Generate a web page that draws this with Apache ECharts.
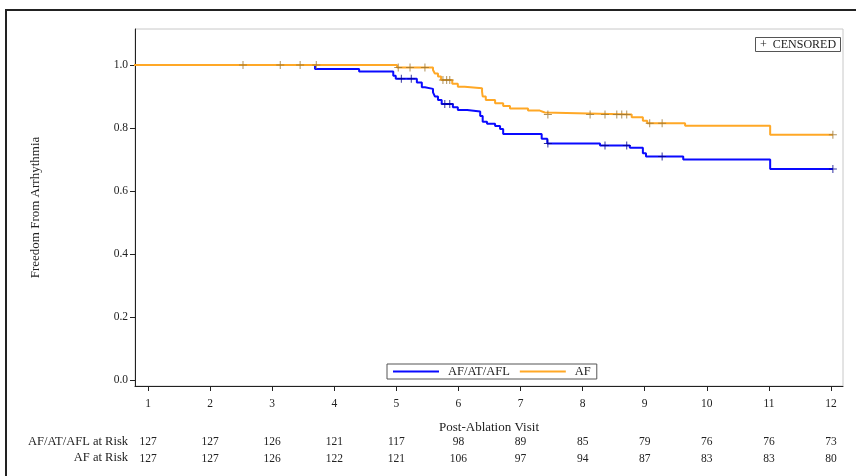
<!DOCTYPE html>
<html><head><meta charset="utf-8">
<script src="https://cdn.jsdelivr.net/npm/echarts@6/dist/echarts.min.js"></script>
<style>html,body{margin:0;padding:0;background:#fff}#c{width:856px;height:476px}</style>
</head><body><div id="c"></div>
<script>
// ---------- data ----------
const visits = [1,2,3,4,5,6,7,8,9,10,11,12];
const atRiskAll = [127,127,126,121,117,98,89,85,79,76,76,73];
const atRiskAF  = [127,127,126,122,121,106,97,94,87,83,83,80];
const yTicks = [0,0.2,0.4,0.6,0.8,1.0];

const stepTimesAll = [0,3.69,4.40,4.95,4.99,5.33,5.41,5.46,5.59,5.62,5.67,5.73,5.91,5.99,6.14,6.35,6.39,6.46,6.59,6.67,6.72,7.34,7.43,8.28,8.76,8.97,9.02,9.62,11.02,12.03];
const survAll      = [1.0,0.987,0.979,0.966,0.956,0.944,0.929,0.924,0.913,0.900,0.889,0.876,0.866,0.857,0.852,0.838,0.820,0.813,0.806,0.797,0.781,0.766,0.751,0.744,0.737,0.720,0.709,0.700,0.670,0.670];
const censorAll    = [5.08,5.24,5.78,5.86,7.44,8.36,8.71,9.28,12.03];

const stepTimesAF = [0,5.01,5.59,5.62,5.67,5.72,5.90,5.99,6.10,6.38,6.39,6.44,6.59,6.72,6.83,7.12,7.31,7.39,8.79,8.97,9.04,9.65,11.02,12.03];
const survAF      = [1.0,0.992,0.984,0.973,0.963,0.952,0.940,0.931,0.926,0.915,0.900,0.889,0.878,0.870,0.862,0.855,0.849,0.843,0.834,0.823,0.815,0.807,0.778,0.778];
const censorAF    = [2.53,3.13,3.45,3.71,5.03,5.22,5.46,5.75,5.81,5.86,7.44,8.12,8.36,8.55,8.63,8.71,9.08,9.28,12.03];

// ---------- helpers ----------
function pairs(ts, vs){ return ts.map((t,i)=>[t, vs[i]]); }
function valueAt(ts, vs, t){ let v = vs[0]; for (let i=0;i<ts.length;i++){ if (ts[i] <= t + 1e-9) v = vs[i]; } return v; }
function censorPts(cs, ts, vs){ return cs.map(t=>[t, valueAt(ts, vs, t)]); }

const FONT = '"Liberation Serif", "Times New Roman", serif';
const X_MIN = 0.7906, X_MAX = 12.193;
const Y_MIN = -0.019, Y_MAX = 1.114;
const CROSS = 'path://M0,3.5 H8 V4.5 H0 Z M3.5,0 H4.5 V8 H3.5 Z';
const BLUE = '#0a0aff', ORANGE = '#ffa826';

const chart = echarts.init(document.getElementById('c'), null, {renderer:'canvas'});
const baseX = {
  type:'value', gridIndex:0, min:X_MIN, max:X_MAX, position:'bottom',
  splitLine:{show:false}
};
chart.setOption({
  animation:false,
  backgroundColor:'#fff',
  grid:{left:135, top:29, width:708, height:357, show:true, borderColor:'#c8c8c8', borderWidth:1, containLabel:false},
  legend:{
    data:['AF/AT/AFL','AF'], left:387, top:364, orient:'horizontal',
    padding:[1,6,1,6], itemWidth:46, itemHeight:2, itemGap:10, icon:'rect',
    borderColor:'#555', borderWidth:1, backgroundColor:'#fff',
    textStyle:{fontFamily:FONT, fontSize:12.5, color:'#222', padding:[0,0,0,4]}
  },
  xAxis:[
    Object.assign({}, baseX, {
      axisLine:{show:true, onZero:false, lineStyle:{color:'#222', width:1}},
      axisTick:{show:true, customValues:visits, length:5, lineStyle:{color:'#222'}},
      axisLabel:{customValues:visits, margin:12, fontFamily:FONT, fontSize:11.5, color:'#222'},
      name:'Post-Ablation Visit', nameLocation:'middle', nameGap:35,
      nameTextStyle:{fontFamily:FONT, fontSize:13, color:'#222'}
    }),
    Object.assign({}, baseX, {
      axisLine:{show:false, onZero:false}, axisTick:{show:false},
      axisLabel:{customValues:visits, margin:50, fontFamily:FONT, fontSize:11.5, color:'#222',
        formatter:(v)=>String(atRiskAll[visits.indexOf(Math.round(v))])}
    }),
    Object.assign({}, baseX, {
      axisLine:{show:false, onZero:false}, axisTick:{show:false},
      axisLabel:{customValues:visits, margin:67, fontFamily:FONT, fontSize:11.5, color:'#222',
        formatter:(v)=>String(atRiskAF[visits.indexOf(Math.round(v))])}
    })
  ],
  yAxis:{
    type:'value', min:Y_MIN, max:Y_MAX,
    axisLine:{show:true, onZero:false, lineStyle:{color:'#222', width:1}},
    axisTick:{show:true, customValues:yTicks, length:5, lineStyle:{color:'#222'}},
    axisLabel:{customValues:yTicks, margin:7, fontFamily:FONT, fontSize:11.5, color:'#222',
      formatter:(v)=>v.toFixed(1)},
    splitLine:{show:false},
    name:'Freedom From Arrhythmia', nameLocation:'middle', nameGap:93, nameRotate:90,
    nameTextStyle:{fontFamily:FONT, fontSize:13, color:'#222'}
  },
  series:[
    {name:'AF/AT/AFL', type:'line', step:'end', showSymbol:false, xAxisIndex:0, yAxisIndex:0,
     data:pairs(stepTimesAll, survAll), color:BLUE, lineStyle:{color:BLUE, width:2}, z:2, silent:true},
    {name:'AF', type:'line', step:'end', showSymbol:false, xAxisIndex:0, yAxisIndex:0,
     data:pairs(stepTimesAF, survAF), color:ORANGE, lineStyle:{color:ORANGE, width:2}, z:3, silent:true},
    {name:'censorAll', type:'scatter', symbol:CROSS, symbolSize:8, xAxisIndex:0, yAxisIndex:0,
     data:censorPts(censorAll, stepTimesAll, survAll), itemStyle:{color:'#00008c'}, z:4, silent:true},
    {name:'censorAF', type:'scatter', symbol:CROSS, symbolSize:8, xAxisIndex:0, yAxisIndex:0,
     data:censorPts(censorAF, stepTimesAF, survAF), itemStyle:{color:'#9c7630'}, z:5, silent:true}
  ],
  graphic:[
    {type:'rect', shape:{x:6, y:10, width:900, height:500}, style:{fill:'none', stroke:'#222', lineWidth:2}, silent:true},
    {type:'rect', shape:{x:755.5, y:37.5, width:85, height:14}, style:{fill:'#fff', stroke:'#555', lineWidth:1}, z:10},
    {type:'text', x:760, y:44.8, style:{text:'+  CENSORED', font:'12px '+FONT, fill:'#222', verticalAlign:'middle'}, z:11},
    {type:'text', x:128, y:442, style:{text:'AF/AT/AFL at Risk', font:'12.5px '+FONT, fill:'#222', align:'right', verticalAlign:'middle'}},
    {type:'text', x:128, y:458, style:{text:'AF at Risk', font:'12.5px '+FONT, fill:'#222', align:'right', verticalAlign:'middle'}}
  ]
});
</script>
</body></html>
